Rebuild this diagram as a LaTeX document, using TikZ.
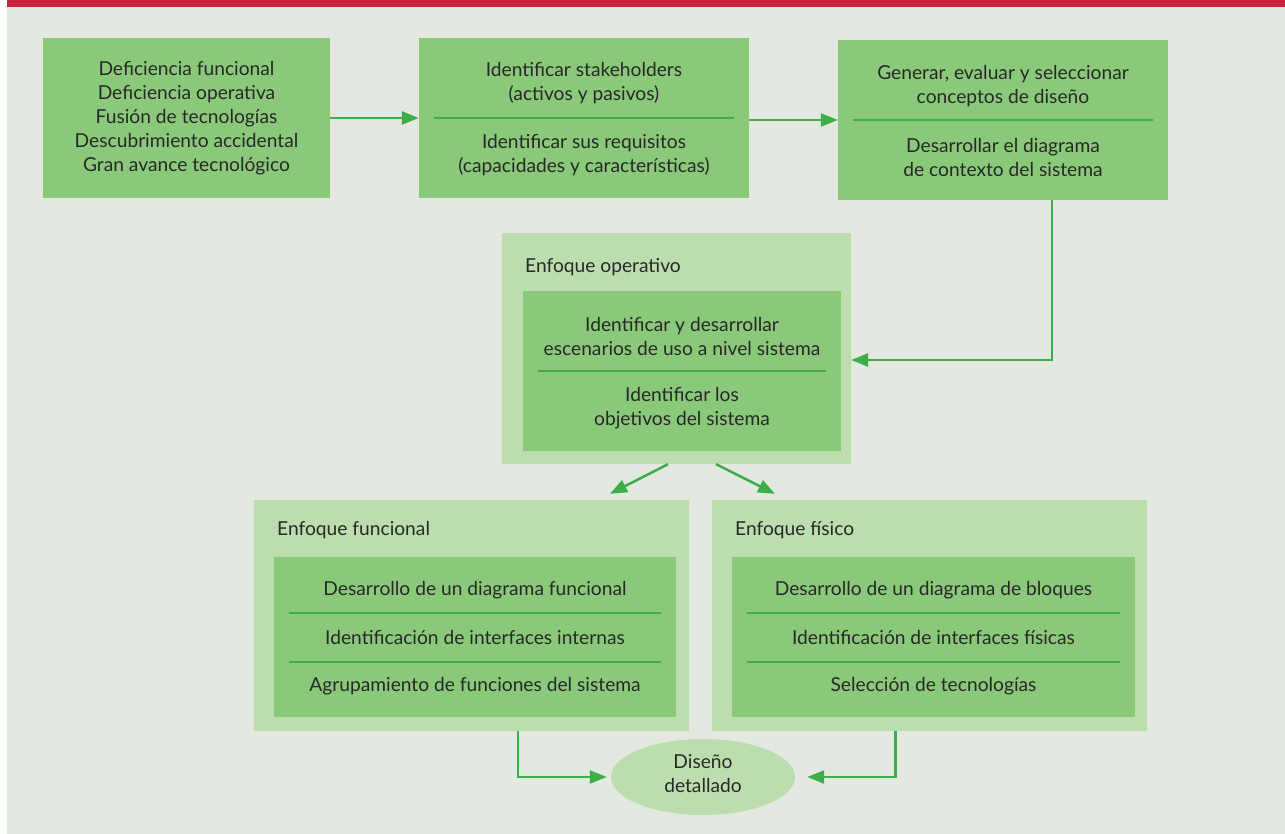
\documentclass[tikz,border=0pt]{standalone}
\usepackage{fontspec}
\setmainfont{Lato}
\usepackage{tikz}
\usetikzlibrary{shapes.geometric, arrows.meta, positioning, calc}
\definecolor{paper}{RGB}{227,232,225}
\definecolor{banner}{RGB}{200,34,63}
\definecolor{leaf}{RGB}{138,201,122}
\definecolor{mint}{RGB}{188,222,175}
\definecolor{stem}{RGB}{61,174,73}
\definecolor{ink}{RGB}{40,40,40}

\begin{document}
\begin{tikzpicture}[x=1pt, y=-1pt,
    block/.style={rectangle, fill=leaf, inner sep=0pt, minimum height=160},
    zone/.style={rectangle, fill=mint, inner sep=0pt, minimum height=231, minimum width=435},
    txt/.style={font=\fontsize{19.2}{24}\selectfont, text=ink, align=center, inner sep=0pt},
    ttl/.style={font=\fontsize{19.2}{24}\selectfont, text=ink, anchor=west, inner sep=0pt},
    sep/.style={draw=stem, line width=2pt},
    arr/.style={-{Triangle[length=17pt, width=13pt]}, stem, line width=2.5pt},
]
\useasboundingbox (0,0) rectangle (1285,834);
\fill[white] (0,0) rectangle (1285,834);
\fill[paper] (7,0) rectangle (1285,834);
\fill[banner] (7,0) rectangle (1285,7);

\node[block, minimum width=287, txt] (causes) at (186.5,118)
  {Deficiencia funcional\\Deficiencia operativa\\Fusión de tecnologías\\Descubrimiento accidental\\Gran avance tecnológico};

\node[block, minimum width=330] (stake) at (584,118) {};
\node[txt] (stake1) at (584,83.5) {Identificar stakeholders\\(activos y pasivos)};
\node[txt] (stake2) at (584,155) {Identificar sus requisitos\\(capacidades y características)};
\draw[sep] ([xshift=15pt]stake.west) -- ([xshift=-15pt]stake.east);

\node[block, minimum width=330] (concepts) at (1003,120) {};
\node[txt] (concepts1) at (1003,86) {Generar, evaluar y seleccionar\\conceptos de diseño};
\node[txt] (concepts2) at (1003,158) {Desarrollar el diagrama\\de contexto del sistema};
\draw[sep] ([xshift=15pt]concepts.west) -- ([xshift=-15pt]concepts.east);

\node[zone, minimum width=349] (opzone) at (676.5,348.5) {};
\node[ttl] (optitle) at (525,267) {Enfoque operativo};
\node[block, minimum width=318] (op) at (682,371) {};
\node[txt] (op1) at (682,337) {Identificar y desarrollar\\escenarios de uso a nivel sistema};
\node[txt] (op2) at (682,408) {Identificar los\\objetivos del sistema};
\draw[sep] ([xshift=15pt]op.west) -- ([xshift=-15pt]op.east);

\node[zone] (funzone) at (471.5,615.5) {};
\node[ttl] (funtitle) at (277,530) {Enfoque funcional};
\node[block, minimum width=402] (fun) at (475,637) {};
\node[txt] (fun1) at (475,590) {Desarrollo de un diagrama funcional};
\node[txt] (fun2) at (475,638) {Identificación de interfaces internas};
\node[txt] (fun3) at (475,686) {Agrupamiento de funciones del sistema};
\draw[sep] ([xshift=15pt,yshift=24.5pt]fun.west) -- ([xshift=-15pt,yshift=24.5pt]fun.east);
\draw[sep] ([xshift=15pt,yshift=-24.5pt]fun.west) -- ([xshift=-15pt,yshift=-24.5pt]fun.east);

\node[zone] (fiszone) at (929.5,615.5) {};
\node[ttl] (fistitle) at (735,530) {Enfoque físico};
\node[block, minimum width=403] (fis) at (933.5,637) {};
\node[txt] (fis1) at (933.5,590) {Desarrollo de un diagrama de bloques};
\node[txt] (fis2) at (933.5,638) {Identificación de interfaces físicas};
\node[txt] (fis3) at (933.5,686) {Selección de tecnologías};
\draw[sep] ([xshift=15pt,yshift=24.5pt]fis.west) -- ([xshift=-15pt,yshift=24.5pt]fis.east);
\draw[sep] ([xshift=15pt,yshift=-24.5pt]fis.west) -- ([xshift=-15pt,yshift=-24.5pt]fis.east);

\node[ellipse, fill=mint, inner sep=0pt, minimum width=184, minimum height=76] (detail) at (703,777) {};
\node[txt] (detailtxt) at (703,774) {Diseño\\detallado};

\draw[arr] (causes) -- (stake);
\draw[arr] (stake.east |- concepts.west) -- (concepts.west);
\draw[arr] ([xshift=49pt]concepts.south) |- ([yshift=-11.5pt]opzone.east);
\draw[arr] ([xshift=-8.5pt]opzone.south) -- ([xshift=138.5pt,yshift=6pt]funzone.north);
\draw[arr] ([xshift=39.5pt]opzone.south) -- ([xshift=-154.5pt,yshift=6pt]fiszone.north);
\draw[arr, shorten >=4pt] ([xshift=46.5pt]funzone.south) |- (detail.west);
\draw[arr, shorten >=12pt] ([xshift=-34pt]fiszone.south) |- (detail.east);
\end{tikzpicture}
\end{document}
